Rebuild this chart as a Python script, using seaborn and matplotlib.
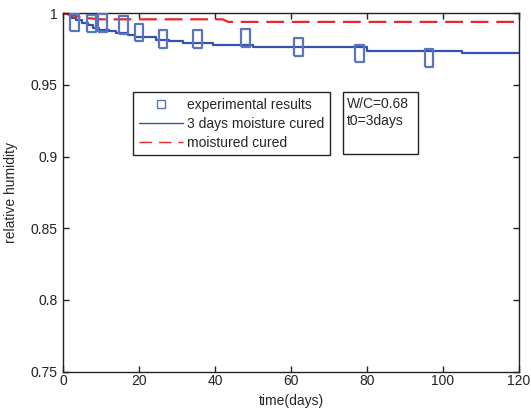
import matplotlib

matplotlib.use("Agg")
import matplotlib.pyplot as plt
import seaborn as sns
from matplotlib.lines import Line2D
from matplotlib.patches import Rectangle
from matplotlib.path import Path

# model curve: 3 days moisture cured (step-like)
days_model = [0, 1.5, 2.5, 3.5, 5, 6.5, 8, 9.5, 12, 14, 17, 19, 24.5, 28, 31.5, 39.5, 50, 80, 105, 120]
rh_model = [1.0, 0.999, 0.997, 0.995, 0.993, 0.9915, 0.990, 0.9886, 0.9875, 0.9865, 0.985,
            0.9834, 0.9815, 0.9806, 0.9794, 0.978, 0.9764, 0.9736, 0.9722, 0.9722]

# model curve: moistured cured
days_moist = [0, 2, 5, 10, 42, 43.5, 120]
rh_moist = [1.0, 0.999, 0.997, 0.9958, 0.9958, 0.994, 0.994]

# experimental results
days_exp = [3, 7.5, 10.5, 16, 20, 26.3, 35.3, 48, 62, 78, 96.3]
rh_exp = [0.9935, 0.9930, 0.9932, 0.992, 0.9867, 0.982, 0.982, 0.9828, 0.9765, 0.972, 0.969]

x_ticks = [0, 20, 40, 60, 80, 100, 120]
y_ticks = [0.75, 0.8, 0.85, 0.9, 0.95, 1.0]
y_tick_labels = ["0.75", "0.8", "0.85", "0.9", "0.95", "1"]

BLUE = "#3553ad"
MARKER_BLUE = "#5a75bf"
RED = "#e8262b"

sns.set_style("ticks")
plt.rcParams["font.family"] = ["Liberation Sans", "DejaVu Sans"]
plt.rcParams["font.size"] = 10

fig = plt.figure(figsize=(5.31, 4.12), dpi=100)
ax = fig.add_axes([0.1186, 0.0983, 0.8588, 0.8694])

sns.lineplot(x=days_model, y=rh_model, ax=ax, color=BLUE, lw=1.6,
             drawstyle="steps-post", estimator=None, sort=False)
sns.lineplot(x=days_moist, y=rh_moist, ax=ax, color=RED, lw=1.6,
             linestyle=(0, (8, 3.5)), estimator=None, sort=False)

tall_box = Path([(-0.5, -1), (0.5, -1), (0.5, 1), (-0.5, 1), (-0.5, -1)])
sns.scatterplot(x=days_exp, y=rh_exp, ax=ax, marker=tall_box, s=160, zorder=3)
coll = ax.collections[-1]
coll.set_facecolor("none")
coll.set_edgecolor(MARKER_BLUE)
coll.set_linewidth(1.6)

ax.set_xlim(0, 120)
ax.set_ylim(0.75, 1.0)
ax.set_xticks(x_ticks)
ax.set_yticks(y_ticks)
ax.set_yticklabels(y_tick_labels)
ax.tick_params(direction="in", length=4, width=1, top=True, right=True,
               labelsize=10, colors="#222222")
ax.tick_params(axis="y", pad=4)
ax.tick_params(axis="x", pad=2)
for sp in ax.spines.values():
    sp.set_visible(True)
    sp.set_linewidth(1)
    sp.set_color("#222222")

ax.set_xlabel("time(days)", fontsize=10, labelpad=4)
ax.set_ylabel("relative humidity", fontsize=10, labelpad=9)

handles = [
    Line2D([], [], color=MARKER_BLUE, marker="s", markersize=6, markerfacecolor="none",
           markeredgewidth=1, linestyle="none"),
    Line2D([], [], color=BLUE, lw=1),
    Line2D([], [], color=RED, lw=1, linestyle=(0, (9, 5))),
]
labels = ["experimental results", "3 days moisture cured", "moistured cured"]
leg = ax.legend(handles, labels, loc="upper left", bbox_to_anchor=(0.1535, 0.7793),
                borderaxespad=0, fancybox=False, edgecolor="#222222", framealpha=1,
                handlelength=3.2, handletextpad=0.3, labelspacing=0.35, fontsize=10,
                borderpad=0.4)
leg.get_frame().set_linewidth(1)

ax.add_patch(Rectangle((0.614, 0.6061), 0.1645, 0.1732, transform=ax.transAxes,
                       fill=False, edgecolor="#222222", lw=1, zorder=4))
ax.text(0.623, 0.765, "W/C=0.68\nt0=3days", transform=ax.transAxes, fontsize=10,
        va="top", ha="left", linespacing=1.2)

fig.savefig("out.png", dpi=100)
